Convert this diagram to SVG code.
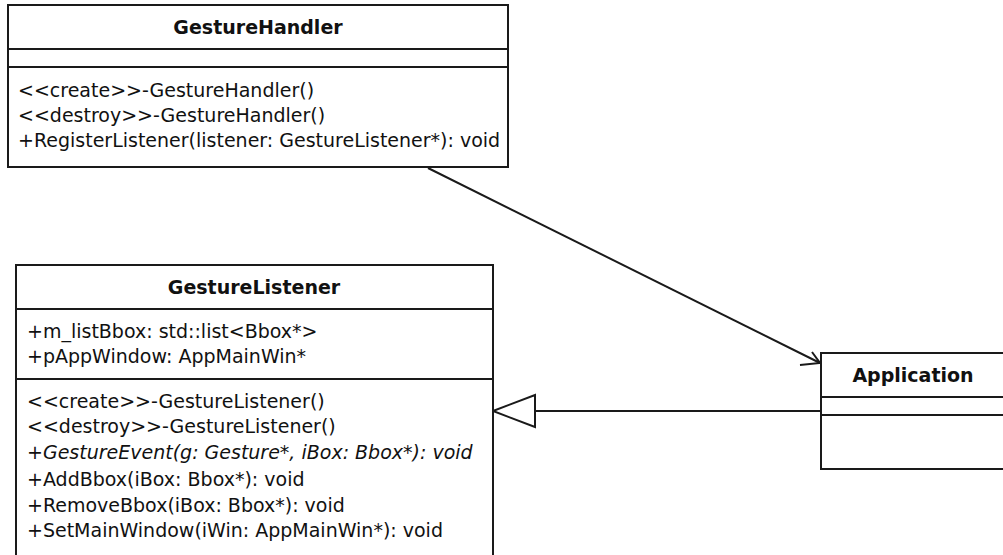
<svg xmlns="http://www.w3.org/2000/svg" width="1003" height="555" viewBox="0 0 1003 555">
<style>
.box{fill:#fff;stroke:#1a1a1a;stroke-width:2}
.ln{stroke:#1a1a1a;stroke-width:2;fill:none}
.t{font-family:"DejaVu Sans",sans-serif;font-size:19px;fill:#111}
.h{font-family:"DejaVu Sans",sans-serif;font-size:19px;font-weight:bold;fill:#111;text-anchor:middle}
.i{font-style:italic}
</style>
<rect width="1003" height="555" fill="#fff"/>
<g id="connectors">
<line class="ln" x1="428" y1="168" x2="820" y2="363" stroke-width="1.5"/>
<polyline class="ln" points="812,352 820,363 800,365" stroke-width="1.5"/>
<line class="ln" x1="535" y1="411" x2="821" y2="411"/>
<polygon class="ln" points="493,411 535,395 535,427" stroke-width="1.5"/>
</g>
<g id="GestureHandler">
<rect class="box" x="8" y="5" width="500" height="162"/>
<line class="ln" x1="8" y1="49" x2="508" y2="49"/>
<line class="ln" x1="8" y1="67" x2="508" y2="67"/>
<text class="h" x="258" y="34">GestureHandler</text>
<text class="t" x="18" y="97">&lt;&lt;create&gt;&gt;-GestureHandler()</text>
<text class="t" x="18" y="122">&lt;&lt;destroy&gt;&gt;-GestureHandler()</text>
<text class="t" x="18" y="147">+RegisterListener(listener: GestureListener*): void</text>
</g>
<g id="GestureListener">
<rect class="box" x="16" y="265" width="477" height="295"/>
<line class="ln" x1="16" y1="309" x2="493" y2="309"/>
<line class="ln" x1="16" y1="379" x2="493" y2="379"/>
<text class="h" x="254" y="294">GestureListener</text>
<text class="t" x="27" y="338">+m_listBbox: std::list&lt;Bbox*&gt;</text>
<text class="t" x="27" y="363">+pAppWindow: AppMainWin*</text>
<text class="t" x="27" y="408">&lt;&lt;create&gt;&gt;-GestureListener()</text>
<text class="t" x="27" y="433">&lt;&lt;destroy&gt;&gt;-GestureListener()</text>
<text class="t i" x="27" y="459">+GestureEvent(g: Gesture*, iBox: Bbox*): void</text>
<text class="t" x="27" y="486">+AddBbox(iBox: Bbox*): void</text>
<text class="t" x="27" y="512">+RemoveBbox(iBox: Bbox*): void</text>
<text class="t" x="27" y="537">+SetMainWindow(iWin: AppMainWin*): void</text>
</g>
<g id="Application">
<rect class="box" x="821" y="353" width="200" height="116"/>
<line class="ln" x1="821" y1="397" x2="1021" y2="397"/>
<line class="ln" x1="821" y1="415" x2="1021" y2="415"/>
<text class="h" x="913" y="382">Application</text>
</g>
</svg>
